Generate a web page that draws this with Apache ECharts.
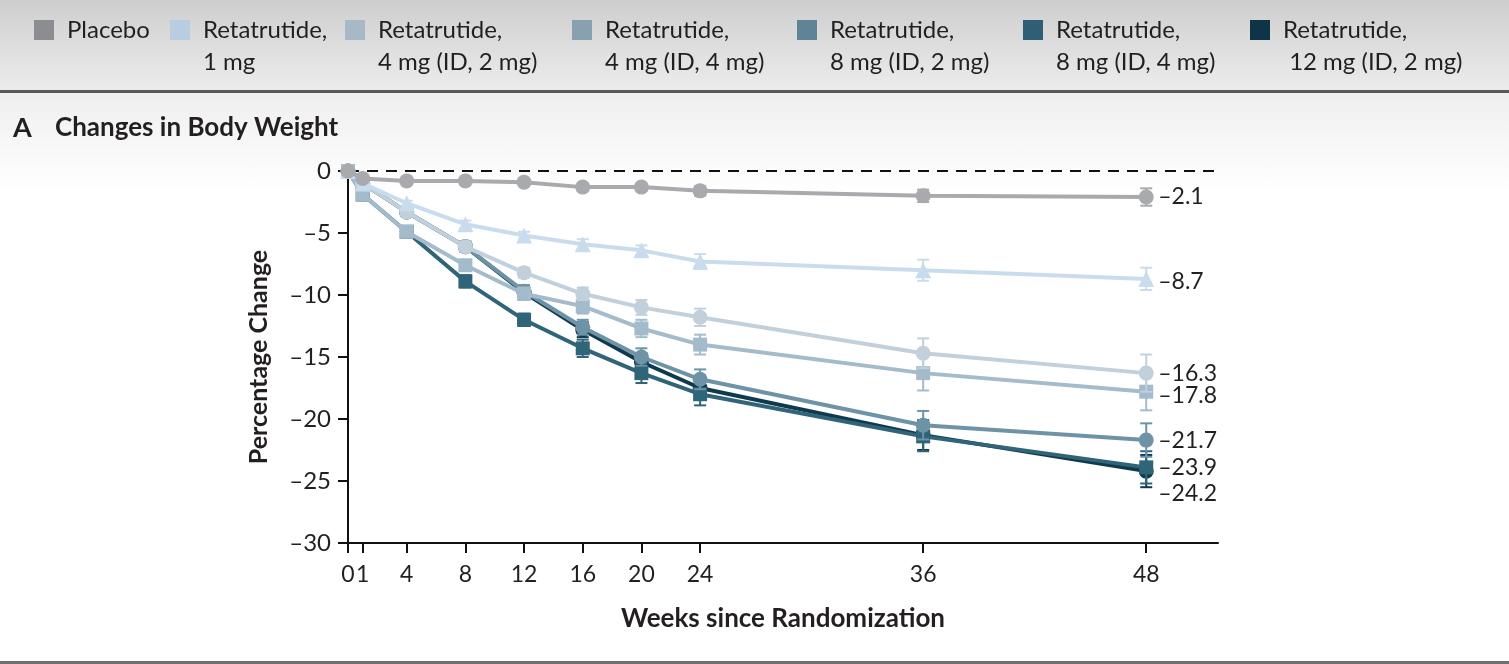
<!DOCTYPE html>
<html>
<head>
<meta charset="utf-8">
<script src="https://cdn.jsdelivr.net/npm/echarts@6/dist/echarts.min.js"></script>
<style>
  html, body { margin: 0; padding: 0; width: 1509px; height: 664px; overflow: hidden; background: #fff; }
  #hdr { position: absolute; left: 0; top: 0; width: 1509px; height: 90px; background: linear-gradient(#cecece, #ececec); }
  #hline { position: absolute; left: 0; top: 90px; width: 1509px; height: 3px; background: #595959; }
  #sec { position: absolute; left: 0; top: 93px; width: 1509px; height: 568px; background: linear-gradient(#efefef 0px, #ffffff 100px, #ffffff 568px); }
  #bline { position: absolute; left: 0; top: 661px; width: 1509px; height: 3px; background: #707070; }
  #chart { position: absolute; left: 0; top: 0; width: 1509px; height: 664px; }
</style>
</head>
<body>
<div id="hdr"></div><div id="hline"></div><div id="sec"></div><div id="bline"></div>
<div id="chart"></div>
<script>
// ---------- data ----------
const weeks = [0, 1, 4, 8, 12, 16, 20, 24, 36, 48];
const weekTicks = [0, 1, 4, 8, 12, 16, 20, 24, 36, 48];
const yTicks = { min: -30, max: 0, interval: 5 };

const seriesNames = [
  'Placebo',
  'Retatrutide,\n1 mg',
  'Retatrutide,\n4 mg (ID, 2 mg)',
  'Retatrutide,\n4 mg (ID, 4 mg)',
  'Retatrutide,\n8 mg (ID, 2 mg)',
  'Retatrutide,\n8 mg (ID, 4 mg)',
  'Retatrutide,\n 12 mg (ID, 2 mg)'
];

const placebo = [0, -0.6, -0.8, -0.8, -0.9, -1.3, -1.3, -1.6, -2.0, -2.1];
const reta1   = [0, -1.0, -2.6, -4.3, -5.2, -5.9, -6.4, -7.3, -8.0, -8.7];
const reta4i2 = [0, -1.0, -3.3, -6.1, -8.2, -9.9, -11.0, -11.8, -14.7, -16.3];
const reta4i4 = [0, -1.9, -4.9, -7.6, -9.9, -10.9, -12.7, -14.0, -16.3, -17.8];
const reta8i2 = [0, -1.0, -3.3, -6.1, -9.7, -12.6, -15.0, -16.8, -20.5, -21.7];
const reta8i4 = [0, -1.9, -4.9, -8.9, -12.0, -14.3, -16.3, -18.0, -21.4, -23.9];
const reta12  = [0, -1.0, -3.3, -6.1, -9.8, -12.8, -15.4, -17.5, -21.3, -24.2];

// half-widths of the error bars
const errPlacebo = [0, 0.1, 0.2, 0.2, 0.2, 0.3, 0.3, 0.4, 0.5, 0.7];
const errReta1   = [0, 0.1, 0.2, 0.3, 0.3, 0.4, 0.4, 0.6, 0.85, 0.9];
const errReta4i2 = [0, 0.1, 0.3, 0.4, 0.4, 0.5, 0.6, 0.7, 1.2, 1.5];
const errReta4i4 = [0, 0.2, 0.3, 0.4, 0.5, 0.6, 0.7, 0.8, 1.4, 1.5];
const errReta8i2 = [0, 0.1, 0.3, 0.4, 0.5, 0.6, 0.7, 0.8, 1.15, 1.35];
const errReta8i4 = [0, 0.2, 0.3, 0.5, 0.5, 0.7, 0.8, 0.9, 1.2, 1.3];
const errReta12  = [0, 0.1, 0.3, 0.4, 0.5, 0.6, 0.7, 0.8, 1.2, 1.3];

// ---------- styling ----------
const values = [placebo, reta1, reta4i2, reta4i4, reta8i2, reta8i4, reta12];
const errors = [errPlacebo, errReta1, errReta4i2, errReta4i4, errReta8i2, errReta8i4, errReta12];
const lineColors   = ['#a9aaae', '#c9dcee', '#c2d0db', '#a3bbca', '#6f93a6', '#2f6479', '#0f3a4e'];
const legendColors = ['#8c8d91', '#b8cde0', '#a7b9c7', '#87a1b1', '#5e8496', '#2e5f75', '#0d3547'];
const symbols = ['circle', 'triangle', 'circle', 'rect', 'circle', 'rect', 'circle'];
const symbolSizes = [15, 16, 15, 14, 15, 14, 15];
const endOffsets = [0, 3, 0, 4, 0, 0, 22];
const legendLeft = [34, 170, 345, 572, 797, 1023, 1250];

const FONT = 'Lato';
const INK = '#231f20';

// axis break: weeks after 24 are drawn wider on the printed figure
const BREAK = 24, STRETCH = 1.267;
function pos(w) { return w <= BREAK ? w : BREAK + (w - BREAK) * STRETCH; }
const tickPos = weekTicks.map(pos);
const dash = s => String(s).replace('-', '\u2013');

const series = [];
values.forEach((vals, i) => {
  const name = seriesNames[i];
  const zLine = 30 - 2 * i;
  series.push({
    name: name,
    type: 'line',
    z: zLine,
    clip: false,
    data: weeks.map((w, j) => [pos(w), vals[j]]),
    symbol: symbols[i],
    symbolSize: symbolSizes[i],
    showAllSymbol: true,
    lineStyle: { color: lineColors[i], width: 4 },
    itemStyle: { color: lineColors[i] },
    emphasis: { disabled: true },
    endLabel: {
      show: true,
      formatter: p => dash(p.value[1].toFixed(1)),
      distance: 12,
      offset: [0, endOffsets[i]],
      fontFamily: FONT,
      fontSize: 23,
      color: INK
    },
    markLine: i === 0 ? {
      silent: true,
      symbol: 'none',
      label: { show: false },
      lineStyle: { color: '#111', type: [11, 8], width: 2 },
      data: [{ yAxis: 0 }]
    } : undefined
  });
  series.push({
    name: name,
    type: 'custom',
    z: zLine + 1,
    clip: false,
    silent: true,
    data: weeks.map((w, j) => [pos(w), vals[j], errors[i][j]]),
    encode: { x: 0, y: 1 },
    renderItem: function (params, api) {
      const x = api.value(0), y = api.value(1), e = api.value(2);
      const top = api.coord([x, y + e]);
      const bot = api.coord([x, y - e]);
      const c = lineColors[i], hw = 6;
      return {
        type: 'group',
        children: [
          { type: 'line', shape: { x1: top[0], y1: top[1], x2: bot[0], y2: bot[1] }, style: { stroke: c, lineWidth: 2 } },
          { type: 'line', shape: { x1: top[0] - hw, y1: top[1], x2: top[0] + hw, y2: top[1] }, style: { stroke: c, lineWidth: 2 } },
          { type: 'line', shape: { x1: bot[0] - hw, y1: bot[1], x2: bot[0] + hw, y2: bot[1] }, style: { stroke: c, lineWidth: 2 } }
        ]
      };
    }
  });
});

// square swatch sitting at the top of a tall (two-line) legend item
const tallIcon = 'path://M0,0H20V20H0Z M0,52H0.02V52.02H0Z';
const legends = seriesNames.map((name, i) => ({
  left: legendLeft[i],
  top: 14,
  orient: 'horizontal',
  itemWidth: 20,
  itemHeight: i === 0 ? 20 : 52,
  selectedMode: false,
  padding: 0,
  data: [{ name: name, icon: i === 0 ? 'rect' : tallIcon, itemStyle: { color: legendColors[i] } }],
  textStyle: {
    fontFamily: FONT,
    fontSize: 24,
    color: INK,
    lineHeight: 32,
    padding: [0, 0, 0, 8]
  }
}));

const chart = echarts.init(document.getElementById('chart'), null, { renderer: 'canvas' });
chart.setOption({
  backgroundColor: 'transparent',
  animation: false,
  title: [
    { text: 'A', left: 8, top: 110, textStyle: { fontFamily: FONT, fontSize: 27, fontWeight: 'bold', color: INK } },
    { text: 'Changes in Body Weight', left: 50, top: 110, textStyle: { fontFamily: FONT, fontSize: 26, fontWeight: 'bold', color: INK } }
  ],
  legend: legends,
  grid: { left: 348, right: 291, top: 171, bottom: 121, containLabel: false },
  xAxis: {
    type: 'value',
    min: 0,
    max: 59.3,
    name: 'Weeks since Randomization',
    nameLocation: 'middle',
    nameGap: 63,
    nameTextStyle: { fontFamily: FONT, fontSize: 26, fontWeight: 'bold', color: INK },
    axisLine: { show: true, onZero: false, lineStyle: { color: '#111', width: 2 } },
    axisTick: { show: true, length: 10, lineStyle: { color: '#111', width: 2 }, customValues: tickPos },
    axisLabel: {
      customValues: tickPos,
      margin: 20,
      fontFamily: FONT, fontSize: 23, color: INK,
      formatter: v => {
        const k = tickPos.findIndex(p => Math.abs(p - v) < 1e-6);
        return k >= 0 ? String(weekTicks[k]) : '';
      }
    },
    splitLine: { show: false }
  },
  yAxis: {
    type: 'value',
    min: yTicks.min,
    max: yTicks.max,
    interval: yTicks.interval,
    name: 'Percentage Change',
    nameLocation: 'middle',
    nameGap: 77,
    nameTextStyle: { fontFamily: FONT, fontSize: 25, fontWeight: 'bold', color: INK },
    axisLine: { show: true, onZero: false, lineStyle: { color: '#111', width: 2 } },
    axisTick: { show: true, length: 10, lineStyle: { color: '#111', width: 2 } },
    axisLabel: { margin: 17, fontFamily: FONT, fontSize: 24, color: INK, formatter: v => dash(v) },
    splitLine: { show: false }
  },
  series: series
});
</script>
</body>
</html>
